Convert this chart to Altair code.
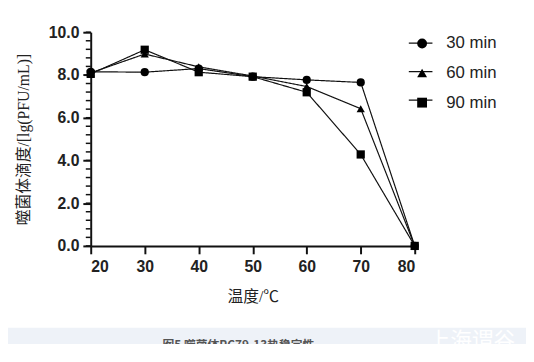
import altair as alt
import pandas as pd

temps = [20, 30, 40, 50, 60, 70, 80]
series_names = ["30 min", "60 min", "90 min"]
v30 = [8.15, 8.13, 8.30, 7.92, 7.77, 7.65, 0.0]
v60 = [8.10, 8.98, 8.38, 7.95, 7.46, 6.42, 0.0]
v90 = [8.05, 9.18, 8.13, 7.92, 7.19, 4.28, 0.0]
y_major = [0, 2, 4, 6, 8, 10]
y_minor = [round(i * 0.4, 1) for i in range(26)]
x_ticks = [20, 30, 40, 50, 60, 70, 80]
x_title = "温度/℃"
y_title = "噬菌体滴度/[lg(PFU/mL)]"
caption = "图5 噬菌体PC79-13热稳定性"
watermark = "上海谓谷"

rows = []
for name, vals in zip(series_names, [v30, v60, v90]):
    for t, v in zip(temps, vals):
        rows.append({"temp": t, "titer": v, "series": name})
df = pd.DataFrame(rows)

W, H = 329, 217
SERIF = "Liberation Serif, Noto Sans CJK SC"
SANS = "Liberation Sans"

xenc = alt.X("temp:Q", scale=alt.Scale(domain=[20, 80], nice=False, zero=False),
             axis=alt.Axis(values=x_ticks, title=x_title, titleFont=SERIF, titleFontSize=16,
                           titleFontWeight="normal", titleColor="#222", titlePadding=14,
                           labelFont=SANS, labelFontSize=16, labelFontWeight="bold",
                           labelColor="#222", labelPadding=5, domainColor="#111", domainWidth=2,
                           tickColor="#111", tickWidth=2, tickSize=8, grid=False))
yenc = alt.Y("titer:Q", scale=alt.Scale(domain=[0, 10], nice=False),
             axis=alt.Axis(values=y_major, format=".1f", title=y_title, titleFont=SERIF,
                           titleFontSize=16, titleFontWeight="normal", titleColor="#222",
                           titlePadding=17, labelFont=SANS, labelFontSize=16,
                           labelFontWeight="bold", labelColor="#222", labelPadding=4,
                           domainColor="#111", domainWidth=2, tickColor="#111", tickWidth=2,
                           tickSize=8, grid=False))

base = alt.Chart(df)

band = alt.Chart(pd.DataFrame({"a": [0]})).mark_rect(color="#eef2f8").encode(
    x=alt.value(-84), x2=alt.value(442), y=alt.value(300), y2=alt.value(330))

cap = alt.Chart(pd.DataFrame({"t": [caption]})).mark_text(
    font="Noto Sans CJK SC", fontSize=12, fontWeight="bold", color="#555", align="center",
    baseline="middle").encode(text="t:N", x=alt.value(150), y=alt.value(318))

wm = alt.Chart(pd.DataFrame({"t": [watermark]})).mark_text(
    font="Noto Sans CJK SC", fontSize=22, color="#ffffff", align="left",
    baseline="middle").encode(text="t:N", x=alt.value(343), y=alt.value(314))

minor = alt.Chart(pd.DataFrame({"v": y_minor})).mark_rule(color="#111", strokeWidth=1.5).encode(
    y=alt.Y("v:Q", scale=alt.Scale(domain=[0, 10], nice=False)), x=alt.value(-5), x2=alt.value(0))

# line stubs of the legend come from the line layer (solid strokes, labels emptied)
lines = base.mark_line(color="#111", strokeWidth=1.2).encode(
    x=xenc, y=yenc, order="temp:Q",
    strokeDash=alt.StrokeDash(
        "series:N", sort=series_names,
        scale=alt.Scale(domain=series_names, range=[[1, 0], [1, 0], [1, 0]]),
        legend=alt.Legend(title=None, orient="none", legendX=322, legendY=-2, padding=0,
                          symbolSize=576, symbolStrokeWidth=1.2, symbolStrokeColor="#111",
                          labelFont=SANS, labelFontSize=17, labelExpr="''",
                          labelOffset=6, rowPadding=8)))

mark_shapes = ["circle", "triangle-up", "square"]
point_layers = []
for name, shp in zip(series_names, mark_shapes):
    point_layers.append(
        base.transform_filter(alt.datum.series == name)
        .mark_point(filled=True, color="#000", opacity=1, size=70, shape=shp)
        .encode(x="temp:Q", y="titer:Q"))

legend_layer = base.mark_point(filled=True, color="#000", opacity=0).encode(
    x="temp:Q", y="titer:Q",
    shape=alt.Shape("series:N", sort=series_names,
                    scale=alt.Scale(domain=series_names, range=mark_shapes),
                    legend=alt.Legend(title=None, orient="none", legendX=328, legendY=3,
                                      padding=0, symbolSize=100, symbolOpacity=1,
                                      symbolFillColor="#000", labelFont=SANS, labelFontSize=17,
                                      labelColor="#222", labelOffset=16, rowPadding=12)))

chart = alt.layer(band, cap, wm, minor, lines, *point_layers, legend_layer).resolve_legend(
    strokeDash="independent", shape="independent").properties(
    width=W, height=H, autosize=alt.AutoSizeParams(type="none"),
    padding={"left": 84, "top": 22, "right": 113, "bottom": 97},
    background="white").configure_view(stroke=None)

chart.save("out.html", embed_options={"renderer": "svg", "actions": False})
